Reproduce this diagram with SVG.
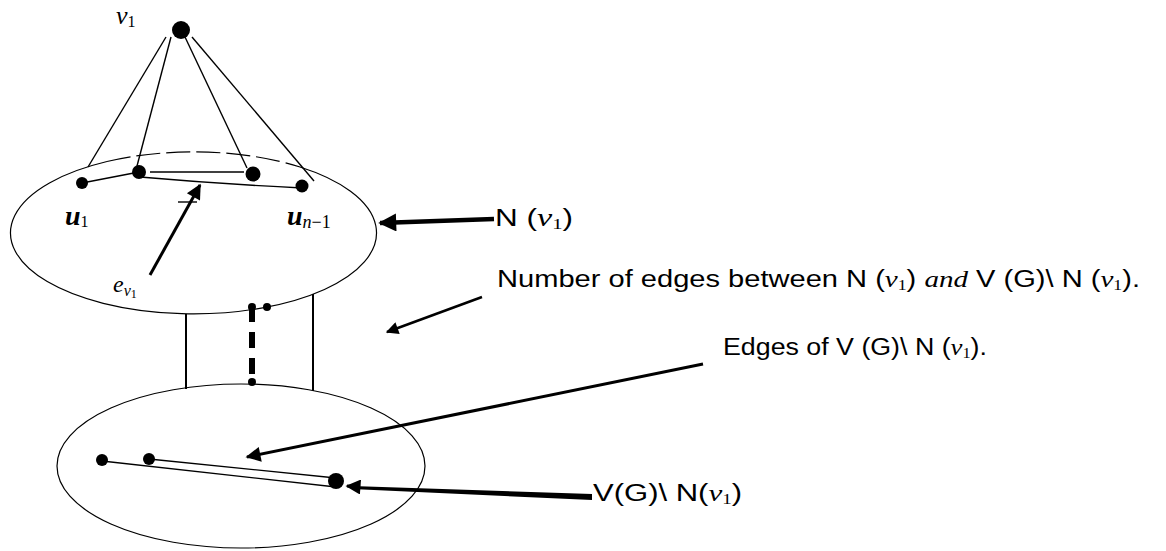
<svg xmlns="http://www.w3.org/2000/svg" width="1166" height="551" viewBox="0 0 1166 551">
<style>
.ell{fill:none;stroke:#000;stroke-width:1.2}
.edge{fill:none;stroke:#000;stroke-width:1.4}
.vert{fill:none;stroke:#000;stroke-width:2}
.dot{fill:#000}
.lbl{font-family:"Liberation Sans",Arial,sans-serif;font-size:23px;fill:#000}
.math{font-family:"Liberation Serif","Times New Roman",serif;font-style:italic;fill:#000}
.sub{font-family:"Liberation Serif","Times New Roman",serif;font-style:normal;font-weight:normal;fill:#000}
.arr{fill:none;stroke:#000}
</style>
<defs>
<marker id="ah" viewBox="0 0 10 10" refX="9" refY="5" markerWidth="5" markerHeight="4" orient="auto">
<path d="M0,0 L10,5 L0,10 Z" fill="#000"/>
</marker>
<marker id="ahs" viewBox="0 0 10 10" refX="9" refY="5" markerWidth="6" markerHeight="5" orient="auto">
<path d="M0,0 L10,5 L0,10 Z" fill="#000"/>
</marker>
</defs>
<rect width="1166" height="551" fill="#fff"/>

<g id="set-N">
<path class="ell" d="M300,167 A183 81 0 1 1 107,161.5"/>
<path class="ell" d="M107,161.5 A183 81 0 0 1 300,167" stroke-dasharray="24 6"/>
</g>
<g id="set-VminusN">
<ellipse class="ell" cx="241" cy="466" rx="184" ry="82"/>
</g>

<g id="connectors">
<line class="edge" x1="166" y1="37" x2="88" y2="167"/>
<line class="edge" x1="171" y1="37" x2="137" y2="166"/>
<line class="edge" x1="185" y1="37" x2="247" y2="168"/>
<line class="edge" x1="192" y1="37" x2="314" y2="181"/>
<line class="edge" x1="82" y1="183" x2="139" y2="172"/>
<line class="edge" x1="150" y1="172" x2="244" y2="172"/>
<path class="edge" d="M140,177 Q220,184 302,188"/>
<line class="vert" x1="186" y1="314" x2="186" y2="389"/>
<line class="vert" x1="313" y1="294" x2="313" y2="391"/>
<line x1="252" y1="306" x2="252" y2="382" stroke="#000" stroke-width="6" stroke-dasharray="16 10"/>
<line class="edge" x1="102" y1="461" x2="336" y2="487"/>
<line class="edge" x1="149" y1="459" x2="336" y2="478"/>
<line class="arr" x1="150" y1="275" x2="200" y2="185" stroke-width="3" marker-end="url(#ahs)"/>
<line class="edge" x1="178" y1="202" x2="197" y2="202"/>
<line class="arr" x1="494" y1="219" x2="380" y2="223" stroke-width="4.5" marker-end="url(#ah)"/>
<line class="arr" x1="482" y1="297" x2="387" y2="332" stroke-width="2.5" marker-end="url(#ahs)"/>
<line class="arr" x1="703" y1="364" x2="247" y2="457" stroke-width="3" marker-end="url(#ahs)"/>
<path d="M592,494 L592,500 L352,489 L352,486 Z" fill="#000"/>
<line class="arr" x1="360" y1="487" x2="347" y2="486" stroke-width="3" marker-end="url(#ahs)"/>
</g>

<g id="v1">
<circle class="dot" cx="181" cy="30" r="9"/>
<text class="math" x="116" y="24" font-size="26">v<tspan class="sub" font-size="16" dy="3">1</tspan></text>
</g>
<g id="u1">
<circle class="dot" cx="82" cy="183" r="6"/>
<text class="math" x="65" y="225" font-size="28" font-weight="bold">u<tspan class="sub" font-size="16" dy="2">1</tspan></text>
</g>
<g id="u2">
<circle class="dot" cx="139" cy="172" r="7"/>
</g>
<g id="u3">
<circle class="dot" cx="253" cy="174" r="7.5"/>
</g>
<g id="un1">
<circle class="dot" cx="302" cy="186" r="6.5"/>
<text class="math" x="287" y="225" font-size="28" font-weight="bold">u<tspan font-size="18" dy="3" font-weight="normal">n</tspan><tspan class="sub" font-size="18">−1</tspan></text>
</g>
<g id="ev1">
<text class="math" x="113" y="292" font-size="24">e<tspan font-size="16" dy="4">v</tspan><tspan class="sub" font-size="12" dy="2">1</tspan></text>
</g>
<g id="cross-ends">
<circle class="dot" cx="252" cy="307" r="4"/>
<circle class="dot" cx="267" cy="307" r="4"/>
<circle class="dot" cx="252" cy="382" r="4"/>
</g>
<g id="w1"><circle class="dot" cx="102" cy="460" r="6"/></g>
<g id="w2"><circle class="dot" cx="149" cy="459" r="6"/></g>
<g id="w3"><circle class="dot" cx="336" cy="481" r="8"/></g>

<g id="label-N">
<text class="lbl" x="495" y="226" font-size="25" textLength="78" lengthAdjust="spacingAndGlyphs">N (<tspan class="math" font-size="25">v</tspan><tspan class="sub" font-size="15" dy="3">1</tspan><tspan dy="-3">)</tspan></text>
</g>
<g id="label-between">
<text class="lbl" x="497" y="287" textLength="643" lengthAdjust="spacingAndGlyphs">Number of edges between N (<tspan class="math">v</tspan><tspan class="sub" font-size="14" dy="3">1</tspan><tspan dy="-3">) </tspan><tspan class="math">and</tspan> V (G)\ N (<tspan class="math">v</tspan><tspan class="sub" font-size="14" dy="3">1</tspan><tspan dy="-3">).</tspan></text>
</g>
<g id="label-edges">
<text class="lbl" x="723" y="355" textLength="264" lengthAdjust="spacingAndGlyphs">Edges of V (G)\ N (<tspan class="math">v</tspan><tspan class="sub" font-size="14" dy="3">1</tspan><tspan dy="-3">).</tspan></text>
</g>
<g id="label-V">
<text class="lbl" x="593" y="501" textLength="149" lengthAdjust="spacingAndGlyphs">V(G)\ N(<tspan class="math">v</tspan><tspan class="sub" font-size="14" dy="3">1</tspan><tspan dy="-3">)</tspan></text>
</g>
</svg>
